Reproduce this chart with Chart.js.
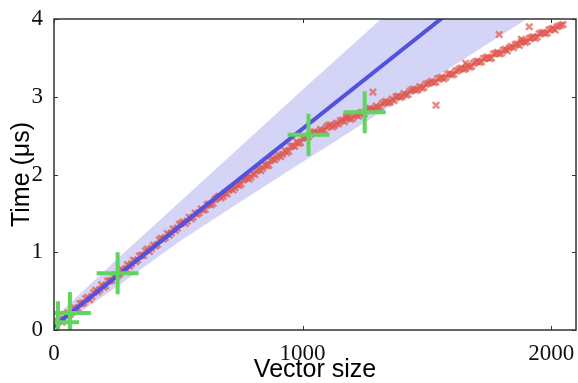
<!DOCTYPE html>
<html>
<head>
<meta charset="utf-8">
<script src="https://cdn.jsdelivr.net/npm/chart.js@4"></script>
<style>
html,body{margin:0;padding:0;background:#fff;}
#c{display:block;}
</style>
</head>
<body>
<canvas id="c" width="578" height="383"></canvas>
<script>
// ---- data ----
const xTicks = [0, 1000, 2000];
const yTicks = [0, 1, 2, 3, 4];

// measured timings (red x markers), first sweep
const sizes = [
  16,32,48,64,80,96,112,128,144,160,176,192,208,224,240,
  256,272,288,304,320,336,352,368,384,400,416,432,448,464,480,496,
  512,528,544,560,576,592,608,624,640,656,672,688,704,720,736,752,768,784,800,
  816,832,848,864,880,896,912,928,944,960,976,992,1008,
  1024,1040,1056,1072,1088,1104,1120,1136,1152,1168,1184,1200,1216,1232,1248,
  1264,1280,1296,1312,1328,1344,1360,1376,1392,1408,1424,1440,1456,1472,1488,
  1504,1520,1536,1552,1568,1584,1600,1616,1632,1648,1664,1680,1696,1712,1728,
  1744,1760,1776,1792,1808,1824,1840,1856,1872,1888,1904,1920,1936,1952,1968,
  1984,2000,2016,2032,2048,
  1283,1537,1791,1912,1176,1656,1880
];
const times = [
  0.11,0.10,0.19,0.20,0.29,0.28,0.34,0.40,0.39,0.48,0.49,0.58,0.57,0.63,0.69,
  0.70,0.78,0.79,0.82,0.90,0.90,0.96,1.02,1.01,1.09,1.10,1.18,1.19,1.22,1.30,1.31,
  1.37,1.37,1.45,1.45,1.49,1.56,1.55,1.62,1.63,1.70,1.70,1.76,1.80,1.80,1.87,1.88,1.95,1.94,2.01,
  2.05,2.05,2.13,2.12,2.20,2.22,2.23,2.31,2.30,2.37,2.42,2.41,2.48,
  2.49,2.54,2.53,2.58,2.57,2.63,2.61,2.66,2.69,2.68,2.74,2.72,2.77,2.79,2.78,
  2.84,2.83,2.88,2.87,2.93,2.92,2.97,3.00,2.99,3.04,3.03,3.09,3.08,3.13,3.12,
  3.17,3.20,3.19,3.24,3.23,3.29,3.28,3.33,3.36,3.35,3.40,3.39,3.45,3.44,3.49,
  3.51,3.50,3.56,3.55,3.60,3.59,3.65,3.67,3.66,3.72,3.71,3.76,3.75,3.81,3.83,
  3.82,3.87,3.86,3.91,3.93,
  3.06,2.89,3.80,3.90,2.75,3.43,3.74
];

// measured timings, second (interleaved) sweep
const sizesB = [
  8,24,40,56,72,88,104,120,136,152,168,184,200,216,232,248,
  264,280,296,312,328,344,360,376,392,408,424,440,456,472,488,
  504,520,536,552,568,584,600,616,632,648,664,680,696,712,728,744,760,776,792,
  808,824,840,856,872,888,904,920,936,952,968,984,1000,1016,
  1032,1048,1064,1080,1096,1112,1128,1144,1160,1176,1192,1208,1224,1240,
  1256,1272,1288,1304,1320,1336,1352,1368,1384,1400,1416,1432,1448,1464,1480,
  1496,1512,1528,1544,1560,1576,1592,1608,1624,1640,1656,1672,1688,1704,1720,
  1736,1752,1768,1784,1800,1816,1832,1848,1864,1880,1896,1912,1928,1944,1960,
  1976,1992,2008,2024,2040
];
const timesB = [
  0.06,0.13,0.14,0.22,0.23,0.26,0.34,0.35,0.42,0.43,0.51,0.52,0.55,0.63,0.64,0.71,
  0.72,0.76,0.84,0.85,0.88,0.95,0.96,1.04,1.05,1.08,1.16,1.17,1.24,1.25,1.28,
  1.36,1.39,1.40,1.43,1.50,1.51,1.54,1.61,1.61,1.68,1.72,1.72,1.75,1.82,1.83,1.86,1.93,1.96,1.97,
  2.00,2.07,2.08,2.11,2.18,2.19,2.25,2.26,2.28,2.36,2.36,2.40,2.47,2.47,
  2.52,2.55,2.54,2.56,2.61,2.64,2.63,2.65,2.70,2.72,2.71,2.76,2.75,2.80,
  2.82,2.85,2.84,2.86,2.91,2.94,2.93,2.95,3.01,3.00,3.02,3.07,3.10,3.09,3.11,
  3.16,3.18,3.18,3.23,3.25,3.25,3.30,3.29,3.34,3.37,3.36,3.38,3.43,3.46,3.45,
  3.50,3.49,3.55,3.57,3.56,3.61,3.63,3.63,3.68,3.70,3.70,3.75,3.77,3.77,3.82,
  3.81,3.86,3.88,3.90,3.92
];

// model prediction (blue line) and its uncertainty band
const modelX = [0, 2100];
const modelY = [0.05, 5.38];
const bandX     = [0, 250, 500, 750, 1000, 1250, 1500, 1750, 2000, 2100];
const bandUpper = [0.15, 0.90, 1.63, 2.36, 3.09, 3.81, 4.53, 5.25, 5.98, 6.27];
const bandLower = [0.00, 0.55, 1.13, 1.65, 2.16, 2.67, 3.18, 3.69, 4.20, 4.40];

// benchmark points (green crosses)
const benchX = [16, 64, 256, 1024, 1250];
const benchY = [0.10, 0.22, 0.73, 2.51, 2.80];

// ---- build datasets ----
const pts = (xs, ys) => xs.map((x, i) => ({x: x, y: ys[i]}));

const insideTicks = {
  id: 'insideTicks',
  afterDatasetsDraw(chart) {
    const {ctx, chartArea: a, scales} = chart;
    const xs = scales.x, ys = scales.y;
    ctx.save();
    ctx.strokeStyle = '#333';
    ctx.lineWidth = 1;
    const L = 4;
    xTicks.forEach(v => {
      const p = Math.round(xs.getPixelForValue(v)) + 0.5;
      ctx.beginPath();
      ctx.moveTo(p, a.bottom); ctx.lineTo(p, a.bottom - L);
      ctx.moveTo(p, a.top); ctx.lineTo(p, a.top + L);
      ctx.stroke();
    });
    yTicks.forEach(v => {
      const p = Math.round(ys.getPixelForValue(v)) + 0.5;
      ctx.beginPath();
      ctx.moveTo(a.left, p); ctx.lineTo(a.left + L, p);
      ctx.moveTo(a.right, p); ctx.lineTo(a.right - L, p);
      ctx.stroke();
    });
    ctx.lineWidth = 1.5;
    ctx.strokeStyle = '#333';
    ctx.strokeRect(a.left, a.top, a.right - a.left, a.bottom - a.top);
    ctx.restore();
  }
};

new Chart(document.getElementById('c'), {
  type: 'scatter',
  data: {
    datasets: [
      {
        label: 'bench',
        data: pts(benchX, benchY),
        pointStyle: 'cross',
        pointRadius: 21,
        pointBorderWidth: 4,
        borderColor: 'rgb(95,212,95)',
        backgroundColor: 'rgb(95,212,95)',
        clip: 0,
        order: 0
      },
      {
        type: 'line',
        label: 'model',
        data: pts(modelX, modelY),
        borderColor: 'rgb(82,82,222)',
        borderWidth: 4,
        pointRadius: 0,
        fill: false,
        clip: 0,
        order: 1
      },
      {
        label: 'measured',
        data: pts(sizes, times).concat(pts(sizesB, timesB)),
        pointStyle: 'crossRot',
        pointRadius: 4.5,
        pointBorderWidth: 2.5,
        borderColor: 'rgba(222,88,78,0.7)',
        backgroundColor: 'rgba(222,88,78,0.7)',
        clip: 0,
        order: 2
      },
      {
        type: 'line',
        label: 'upper',
        data: pts(bandX, bandUpper),
        borderWidth: 0,
        borderColor: 'rgba(0,0,0,0)',
        pointRadius: 0,
        fill: false,
        clip: 0,
        order: 3
      },
      {
        type: 'line',
        label: 'lower',
        data: pts(bandX, bandLower),
        borderWidth: 0,
        borderColor: 'rgba(0,0,0,0)',
        backgroundColor: 'rgba(100,100,225,0.28)',
        pointRadius: 0,
        fill: '-1',
        clip: 0,
        order: 4
      }
    ]
  },
  options: {
    responsive: false,
    animation: false,
    devicePixelRatio: 1,
    events: [],
    layout: {autoPadding: false, padding: {top: 19, right: 2, left: 0, bottom: 0}},
    plugins: {legend: {display: false}, tooltip: {enabled: false}},
    scales: {
      x: {
        type: 'linear',
        min: 0, max: 2100,
        afterFit: s => { s.height = 53; },
        afterBuildTicks: s => { s.ticks = xTicks.map(v => ({value: v})); },
        grid: {display: false},
        border: {display: false},
        ticks: {
          color: '#111',
          padding: 2,
          maxRotation: 0,
          callback: v => String(v),
          font: {family: '"Liberation Serif", "DejaVu Serif", serif', size: 23}
        },
        title: {
          display: true,
          text: 'Vector size',
          color: '#000',
          padding: 0,
          font: {family: '"Liberation Sans", Arial, sans-serif', size: 25, lineHeight: 1}
        }
      },
      y: {
        type: 'linear',
        min: 0, max: 4,
        afterFit: s => { s.width = 54; },
        afterBuildTicks: s => { s.ticks = yTicks.map(v => ({value: v})); },
        grid: {display: false},
        border: {display: false},
        ticks: {
          color: '#111',
          padding: 3,
          callback: v => String(v),
          font: {family: '"Liberation Serif", "DejaVu Serif", serif', size: 23}
        },
        title: {
          display: true,
          text: 'Time (μs)',
          color: '#000',
          padding: {top: 10, bottom: 0},
          font: {family: '"Liberation Sans", Arial, sans-serif', size: 25, lineHeight: 1}
        }
      }
    }
  },
  plugins: [insideTicks]
});
</script>
</body>
</html>
